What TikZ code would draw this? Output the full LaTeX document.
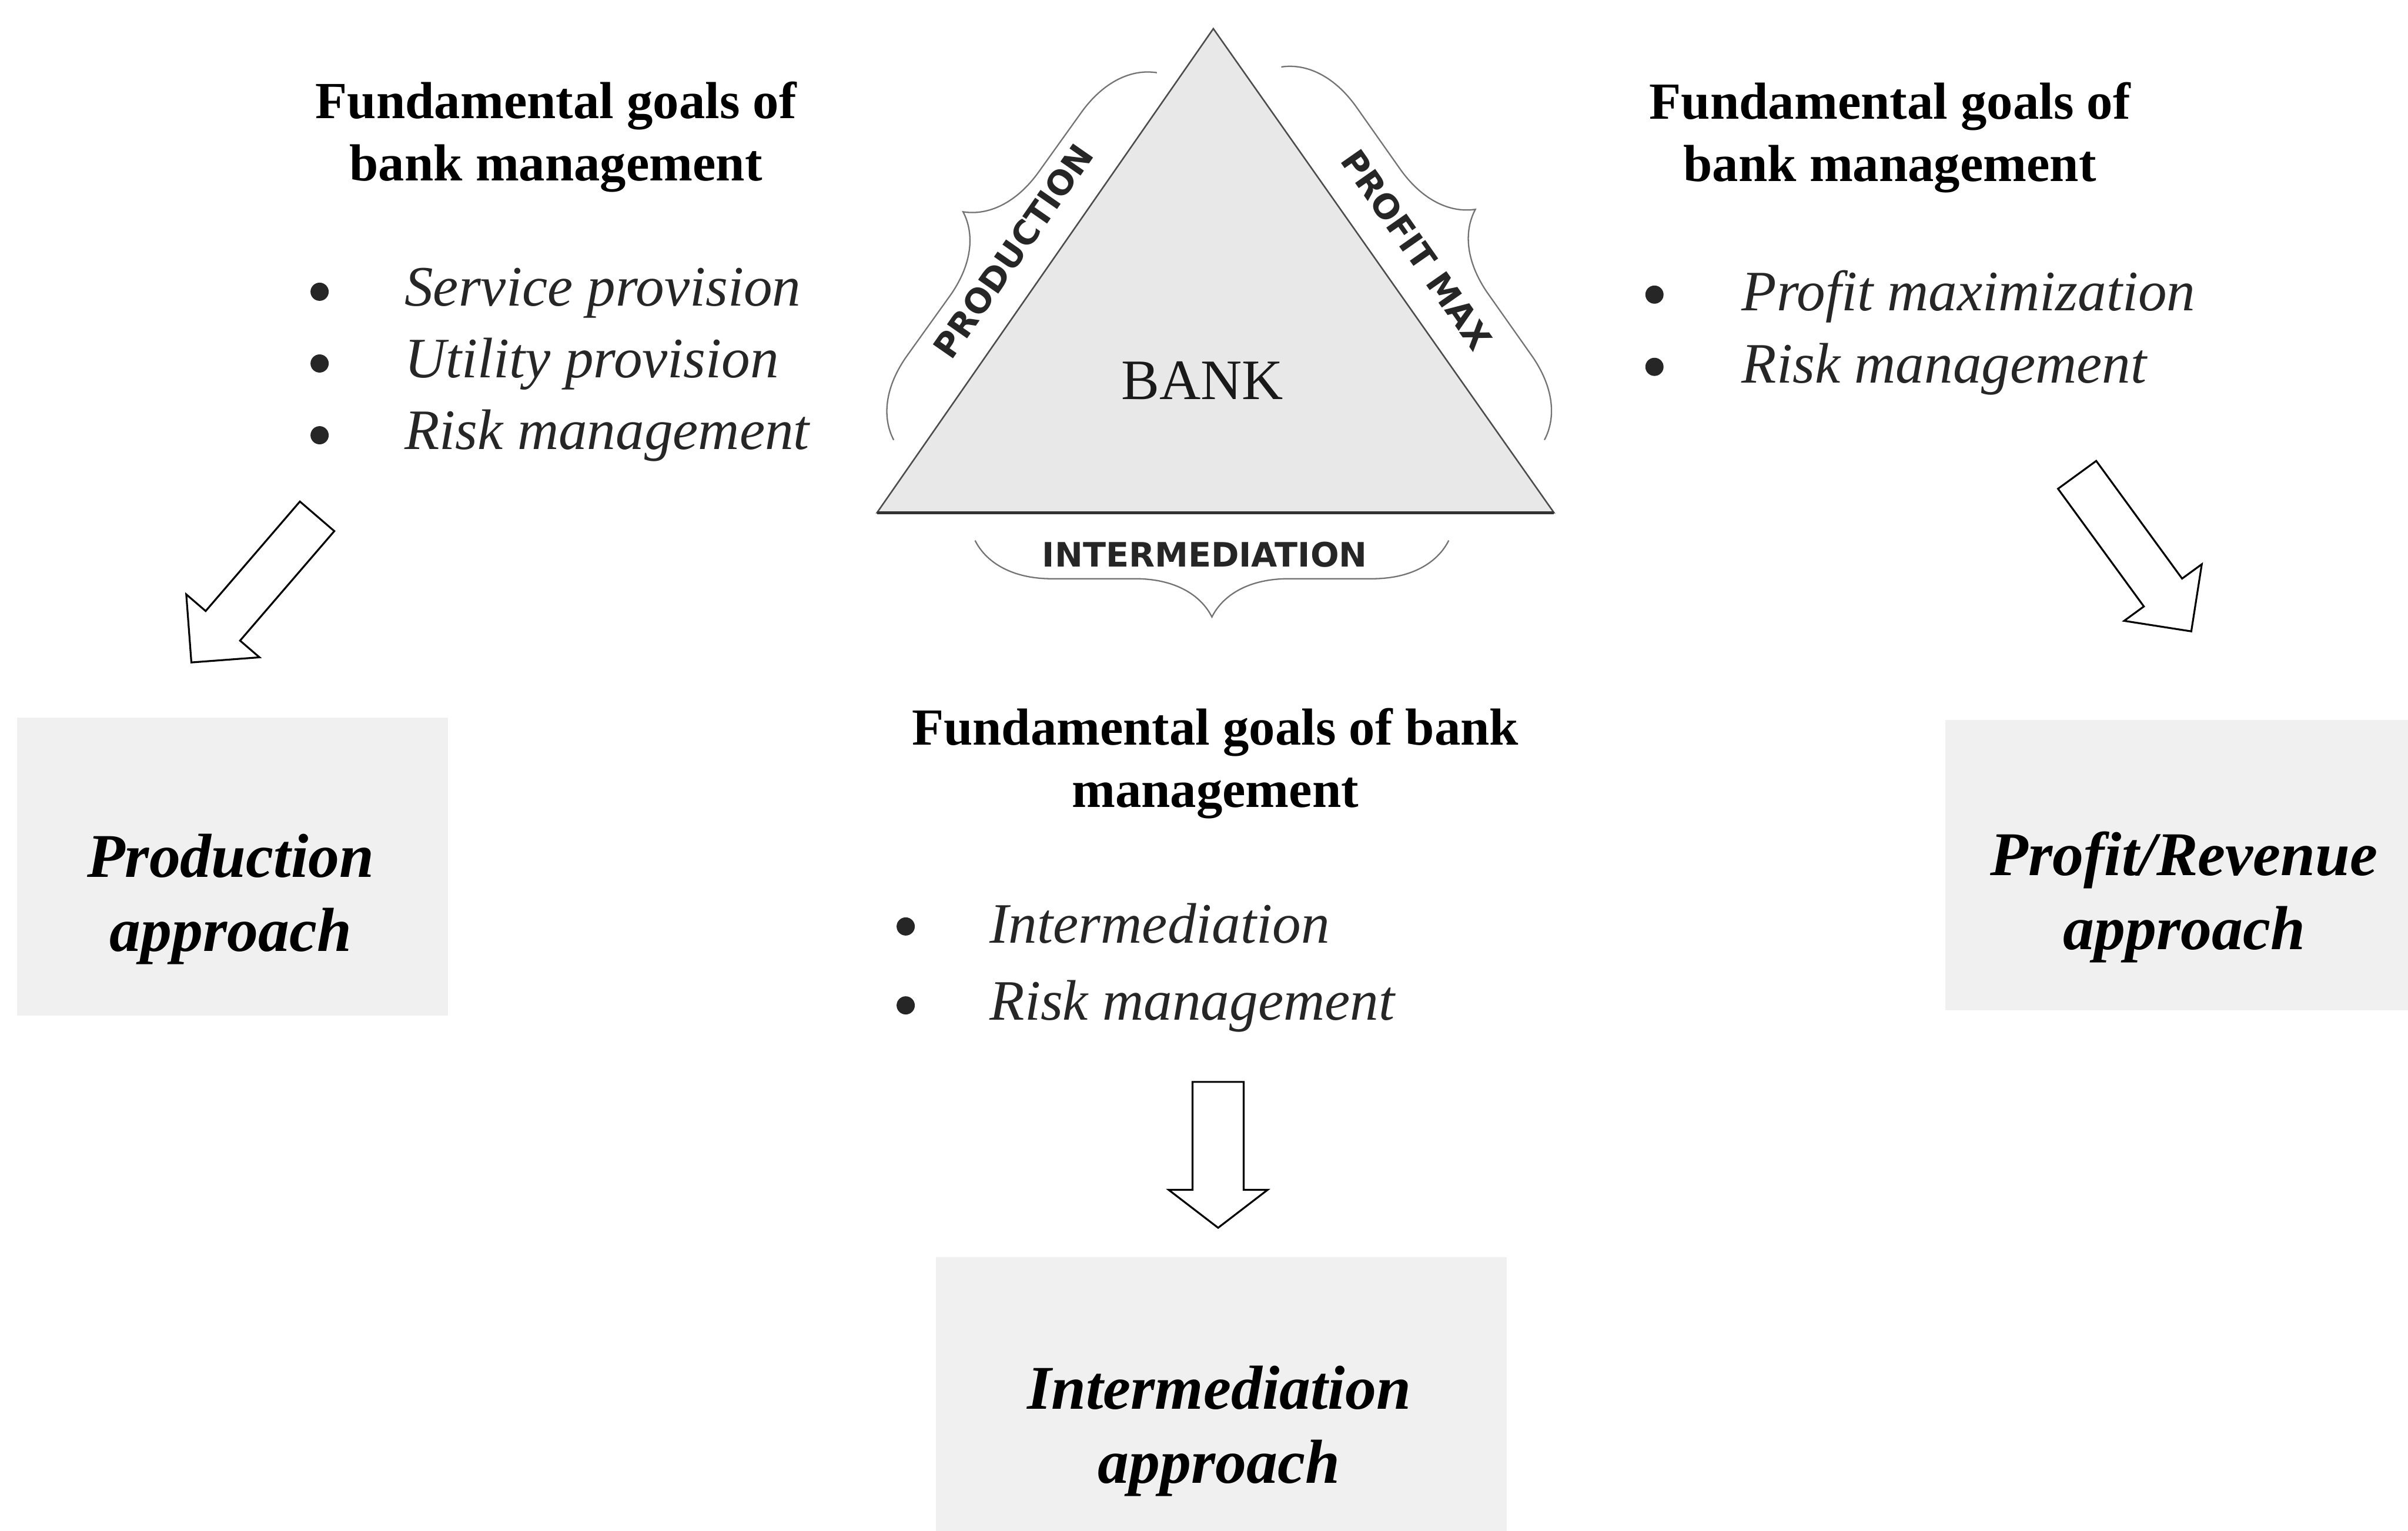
\documentclass[tikz,border=0pt]{standalone}
\usepackage{fontspec}
\setmainfont{Liberation Serif}
\newfontfamily\sidefont{DejaVu Sans}
\usetikzlibrary{shapes.arrows,decorations.pathreplacing}

\definecolor{boxgray}{gray}{0.94}
\definecolor{trigray}{gray}{0.91}

\tikzset{
  goalhead/.style={anchor=north, inner sep=0pt, align=center,
    font=\bfseries\fontsize{31}{37}\selectfont},
  goalitem/.style={anchor=base west, inner sep=0pt, text=black!85,
    font=\itshape\fontsize{34}{40}\selectfont},
  goaldot/.style={circle, fill=black!85, inner sep=0pt, minimum size=0.38cm},
  approachbox/.style={fill=boxgray, inner sep=0pt, anchor=north west},
  approachtext/.style={anchor=north, inner sep=0pt, align=center,
    font=\bfseries\itshape\fontsize{37}{44}\selectfont},
  sidelabel/.style={inner sep=0pt, text=black!85,
    font=\sidefont\bfseries\fontsize{20}{24}\selectfont},
  sidebrace/.style={decorate, decoration={brace, amplitude=1.6cm},
    draw=black!55, line width=0.8pt},
  hollowarrow/.style={single arrow, draw, line width=1.1pt, fill=white,
    anchor=tip, inner xsep=0pt, outer sep=0pt, minimum width=0pt}
}

\begin{document}
\begin{tikzpicture}
  \fill[white] (0,0) rectangle (50.33,32);
  \useasboundingbox (0,0) rectangle (50.33,32);

  % the bank triangle
  \coordinate (apex) at (25.36,31.40);
  \coordinate (lc) at (18.33,21.28);
  \coordinate (rc) at (32.48,21.28);
  \filldraw[fill=trigray, draw=black!70, line width=0.9pt] (apex) -- (lc) -- (rc) -- cycle;
  \draw[black!80, line width=1.5pt] (lc) -- (rc);
  \node[anchor=base, inner sep=0pt, text=black!90, font=\fontsize{34}{40}\selectfont] (bank) at (25.13,23.65) {BANK};

  \node[sidelabel, rotate=55.2] (prodlabel) at (21.18,26.75) {PRODUCTION};
  \node[sidelabel, rotate=-55] (proflabel) at (29.61,26.78) {PROFIT MAX};
  \node[sidelabel] (intlabel) at (25.18,20.40) {INTERMEDIATION};

  \draw[sidebrace] (18.68,22.80) -- (24.18,30.48);
  \draw[sidebrace] (26.78,30.60) -- (32.28,22.80);
  \draw[sidebrace] (30.28,20.70) -- (20.38,20.70);

  % production side
  \node[goalhead] (prodgoals) at (11.62,30.30) {Fundamental goals of\\bank management};
  \node[goaldot] (pd1) at (6.68,25.90) {};
  \node[goaldot] (pd2) at (6.68,24.40) {};
  \node[goaldot] (pd3) at (6.68,22.90) {};
  \node[goalitem] (pi1) at (8.45,25.60) {Service provision};
  \node[goalitem] (pi2) at (8.45,24.10) {Utility provision};
  \node[goalitem] (pi3) at (8.45,22.60) {Risk management};
  \node[hollowarrow, rotate=229.3, minimum height=4.03cm, inner ysep=0.455cm,
    single arrow head extend=0.535cm, single arrow tip angle=90] (prodarrow) at (4.00,18.15) {};
  \node[approachbox, minimum width=9cm, minimum height=6.22cm] (prodbox) at (0.35,17.00) {};
  \node[approachtext] (prodtext) at (4.82,14.57) {Production\\approach};

  % profit side
  \node[goalhead] (profgoals) at (39.50,30.28) {Fundamental goals of\\bank management};
  \node[goaldot] (fd1) at (34.58,25.84) {};
  \node[goaldot] (fd2) at (34.58,24.33) {};
  \node[goalitem] (fi1) at (36.40,25.50) {Profit maximization};
  \node[goalitem] (fi2) at (36.40,24.00) {Risk management};
  \node[hollowarrow, rotate=-53.9, minimum height=4.05cm, inner ysep=0.475cm,
    single arrow head extend=0.51cm, single arrow tip angle=90] (profarrow) at (45.80,18.80) {};
  \node[approachbox, minimum width=9.68cm, minimum height=6.07cm] (profbox) at (40.65,16.95) {};
  \node[approachtext] (proftext) at (45.65,14.62) {Profit/Revenue\\approach};

  % intermediation side
  \node[goalhead] (intgoals) at (25.40,17.20) {Fundamental goals of bank\\management};
  \node[goaldot] (id1) at (18.93,12.63) {};
  \node[goaldot] (id2) at (18.93,10.98) {};
  \node[goalitem] (ii1) at (20.68,12.28) {Intermediation};
  \node[goalitem] (ii2) at (20.68,10.68) {Risk management};
  \node[hollowarrow, rotate=-90, minimum height=3.05cm, inner ysep=0.515cm,
    single arrow head extend=0.50cm, single arrow tip angle=105] (intarrow) at (25.46,6.33) {};
  \node[approachbox, minimum width=11.93cm, minimum height=5.73cm] (intbox) at (19.55,5.73) {};
  \node[approachtext] (inttext) at (25.48,3.45) {Intermediation\\approach};
\end{tikzpicture}
\end{document}
